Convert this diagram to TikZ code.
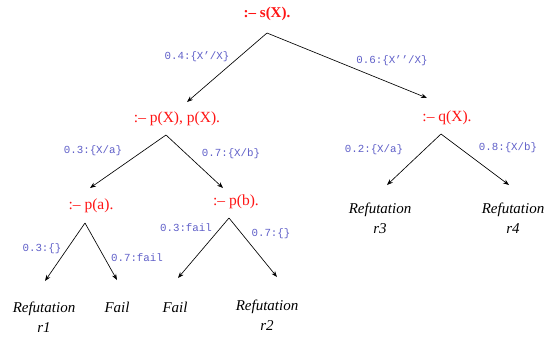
\documentclass[tikz,border=0pt]{standalone}
\usepackage{fontspec}
\setmainfont{Liberation Serif}
\newfontfamily\labfont{Liberation Mono}
\usetikzlibrary{arrows.meta}
\definecolor{goalred}{RGB}{255,20,20}
\definecolor{labblue}{RGB}{95,95,200}
\tikzset{
  goal/.style={text=goalred, font=\fontsize{15.5}{18}\selectfont, inner sep=0pt},
  leaf/.style={font=\fontsize{15}{20}\selectfont\itshape, align=center, inner sep=0pt},
  lab/.style={text=labblue, font=\labfont\fontsize{10.8}{12}\selectfont, inner sep=0pt},
  arr/.style={line width=0.65pt, -{Stealth[length=6pt,width=4.5pt]}},
}
\begin{document}
\begin{tikzpicture}[x=1pt,y=-1pt]
\useasboundingbox (0,0) rectangle (557,341);
% goals
\node[goal, font=\fontsize{15}{18}\selectfont\bfseries] (top) at (267,14) {:– s(X).};
\node[goal] (pxx) at (177,119) {:– p(X), p(X).};
\node[goal] (qx) at (447,118) {:– q(X).};
\node[goal] (pa) at (91,206) {:– p(a).};
\node[goal] (pb) at (236,202) {:– p(b).};
% leaves
\node[leaf] (r1) at (44,317) {Refutation\\r1};
\node[leaf] (f1) at (117,307) {Fail};
\node[leaf] (f2) at (175,307) {Fail};
\node[leaf] (r2) at (267,315) {Refutation\\r2};
\node[leaf] (r3) at (380,218) {Refutation\\r3};
\node[leaf] (r4) at (513,218) {Refutation\\r4};
% apexes and tips
\coordinate (topA) at (267,33);
\coordinate (pxxA) at (166,135);
\coordinate (qxA) at (441,134);
\coordinate (paA) at (85,223);
\coordinate (pbA) at (229,218);
\coordinate (tpxx) at (187,102);
\coordinate (tqx) at (427,98);
\coordinate (tpa) at (90,188);
\coordinate (tpb) at (223,188);
\coordinate (tr3) at (387,185);
\coordinate (tr4) at (509,185);
\coordinate (tr1) at (45,281);
\coordinate (tf1) at (117,280);
\coordinate (tf2) at (178,278);
\coordinate (tr2) at (277,277);
% connectors
\draw[arr] (topA) -- (tpxx);
\draw[arr] (topA) -- (tqx);
\draw[arr] (pxxA) -- (tpa);
\draw[arr] (pxxA) -- (tpb);
\draw[arr] (qxA) -- (tr3);
\draw[arr] (qxA) -- (tr4);
\draw[arr] (paA) -- (tr1);
\draw[arr] (paA) -- (tf1);
\draw[arr] (pbA) -- (tf2);
\draw[arr] (pbA) -- (tr2);
% labels
\node[lab] (l1) at (197,57) {0.4:\{X’/X\}};
\node[lab] (l2) at (392,61) {0.6:\{X’’/X\}};
\node[lab] (l3) at (93,151) {0.3:\{X/a\}};
\node[lab] (l4) at (231,154) {0.7:\{X/b\}};
\node[lab] (l5) at (374,150) {0.2:\{X/a\}};
\node[lab] (l6) at (508,148) {0.8:\{X/b\}};
\node[lab] (l7) at (42,249) {0.3:\{\}};
\node[lab] (l8) at (137,258) {0.7:fail};
\node[lab] (l9) at (186,228) {0.3:fail};
\node[lab] (l10) at (271,234) {0.7:\{\}};
\end{tikzpicture}
\end{document}
